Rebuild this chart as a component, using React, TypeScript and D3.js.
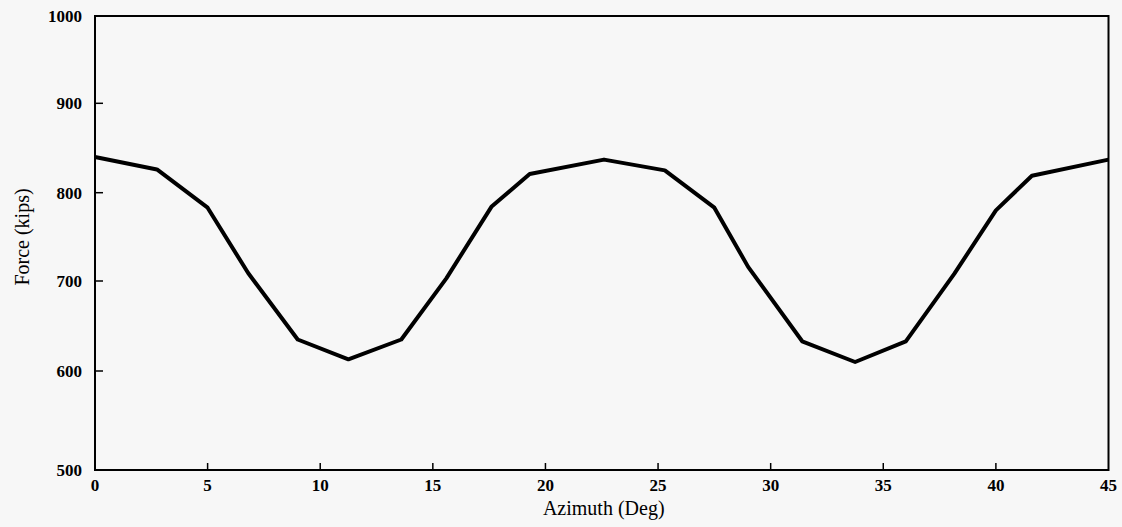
import React, { useEffect, useRef } from 'react';
import * as d3 from 'd3';

// azimuth (deg) and force (kips)
const azimuth = [0, 2.75, 5, 6.8, 9, 11.25, 13.6, 15.6, 17.6, 19.3, 22.6, 25.3, 27.5, 29.0, 31.4, 33.75, 36, 38.15, 40, 41.6, 45];
const force = [840, 826, 783, 709, 635, 613, 635, 703, 784, 821, 837, 825, 783, 716, 633, 610, 633, 708, 780, 819, 837];

const xTicks = [0, 5, 10, 15, 20, 25, 30, 35, 40, 45];
const yTicks = [500, 600, 700, 800, 900, 1000];

const W = 1122;
const H = 527;
const FONT = '"Liberation Serif", "Times New Roman", serif';

const App = () => {
  const svgRef = useRef<SVGSVGElement>(null);

  useEffect(() => {
    const svg = d3.select(svgRef.current);
    svg.selectAll('*').remove();

    const left = 95, right = 1108.5, top = 16, bottom = 470;

    const x = d3.scaleLinear().domain([0, 45]).range([left, right]);
    // the scan is slightly stretched near the bottom, so the tick spacing isn't uniform
    const y = d3.scaleLinear()
      .domain([500, 600, 700, 800, 900, 1000])
      .range([bottom, 371, 281, 192.7, 103.3, top]);

    svg.append('rect').attr('width', W).attr('height', H).attr('fill', '#f7f7f7');

    // frame
    svg.append('rect')
      .attr('x', left).attr('y', top)
      .attr('width', right - left).attr('height', bottom - top)
      .attr('fill', 'none').attr('stroke', '#000').attr('stroke-width', 2);

    // x ticks (inward) + labels
    const xg = svg.append('g');
    xTicks.forEach(t => {
      if (t !== 0 && t !== 45) {
        xg.append('line')
          .attr('x1', x(t)).attr('x2', x(t))
          .attr('y1', bottom).attr('y2', bottom - 7)
          .attr('stroke', '#000').attr('stroke-width', 1.5);
      }
      xg.append('text')
        .attr('x', x(t)).attr('y', 491)
        .attr('text-anchor', 'middle')
        .style('font-family', FONT).style('font-size', '17px').style('font-weight', 'bold')
        .text(t);
    });

    // y ticks + labels
    const yg = svg.append('g');
    yTicks.forEach(t => {
      if (t !== 500 && t !== 1000) {
        yg.append('line')
          .attr('x1', left).attr('x2', left + 8)
          .attr('y1', y(t)).attr('y2', y(t))
          .attr('stroke', '#000').attr('stroke-width', 1.5);
      }
      yg.append('text')
        .attr('x', 82).attr('y', y(t))
        .attr('dy', '0.35em')
        .attr('text-anchor', 'end')
        .style('font-family', FONT).style('font-size', '17px').style('font-weight', 'bold')
        .text(t);
    });

    // axis titles
    svg.append('text')
      .attr('x', (left + right) / 2 + 2).attr('y', 515)
      .attr('text-anchor', 'middle')
      .style('font-family', FONT).style('font-size', '20px')
      .text('Azimuth (Deg)');

    svg.append('text')
      .attr('transform', `translate(29, ${237}) rotate(-90)`)
      .attr('text-anchor', 'middle')
      .style('font-family', FONT).style('font-size', '20px')
      .text('Force (kips)');

    // data line
    const pts: [number, number][] = azimuth.map((a, i) => [a, force[i]]);
    const line = d3.line<[number, number]>()
      .x(d => x(d[0]))
      .y(d => y(d[1]));

    svg.append('path')
      .datum(pts)
      .attr('d', line)
      .attr('fill', 'none')
      .attr('stroke', '#000')
      .attr('stroke-width', 4)
      .attr('stroke-linejoin', 'round');
  }, []);

  return (
    <svg
      ref={svgRef}
      width={W}
      height={H}
      style={{ position: 'absolute', left: 0, top: 0, display: 'block' }}
    />
  );
};

export default App;
